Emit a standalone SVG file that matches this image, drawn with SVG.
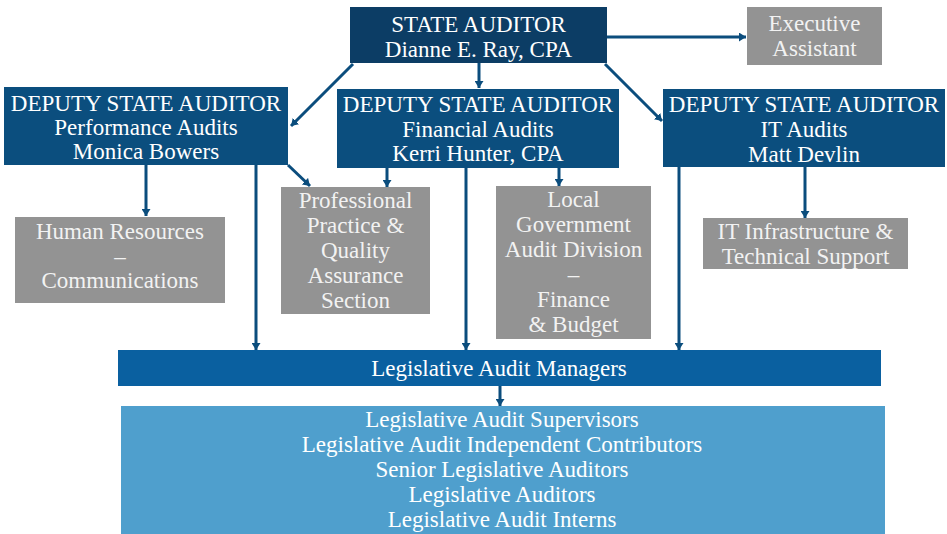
<svg xmlns="http://www.w3.org/2000/svg" width="947" height="534" viewBox="0 0 947 534" font-family="'Liberation Serif', 'DejaVu Serif', serif">
<defs>
<marker id="ah" markerUnits="userSpaceOnUse" viewBox="0 0 7 9" refX="7" refY="4.5" markerWidth="7" markerHeight="9" orient="auto">
<path d="M0,0 L7,4.5 L0,9 z" fill="#0b4d7d"/>
</marker>
<style>
text{font-family:'Liberation Serif','DejaVu Serif',serif;font-size:23px;fill:#ffffff;text-anchor:middle}
.gt{fill:#f2f2f2}
.top{fill:#0c3d65}
.dep{fill:#0b4e7e}
.gray{fill:#939393}
.mgr{fill:#0a60a0}
.low{fill:#4f9fcd}
.c{stroke:#0b4d7d;stroke-width:3;fill:none;marker-end:url(#ah)}
</style>
</defs>
<rect width="947" height="534" fill="#ffffff"/>
<g id="connectors">
<line class="c" x1="607" y1="37" x2="746" y2="37"/>
<line class="c" x1="479" y1="63" x2="479" y2="88"/>
<line class="c" x1="353" y1="64" x2="291" y2="126"/>
<line class="c" x1="605" y1="64" x2="662" y2="121"/>
<line class="c" x1="146" y1="165" x2="146" y2="216"/>
<line class="c" x1="288" y1="165" x2="310" y2="186"/>
<line class="c" x1="256" y1="165" x2="256" y2="350"/>
<line class="c" x1="387" y1="168" x2="387" y2="187"/>
<line class="c" x1="466" y1="168" x2="466" y2="350"/>
<line class="c" x1="559" y1="168" x2="559" y2="186"/>
<line class="c" x1="679" y1="167" x2="679" y2="350"/>
<line class="c" x1="805" y1="167" x2="805" y2="218"/>
<line class="c" x1="500" y1="386" x2="500" y2="406"/>
</g>
<g id="state-auditor">
<rect class="top" x="350" y="7" width="257" height="56"/>
<text x="478.5" y="32">STATE AUDITOR</text>
<text x="478.5" y="57">Dianne E. Ray, CPA</text>
</g>
<g id="executive-assistant">
<rect class="gray" x="747" y="7" width="135" height="58"/>
<text class="gt" x="814.5" y="31">Executive</text>
<text class="gt" x="814.5" y="56">Assistant</text>
</g>
<g id="deputy-performance">
<rect class="dep" x="4" y="87" width="284" height="78"/>
<text x="146" y="111">DEPUTY STATE AUDITOR</text>
<text x="146" y="135">Performance Audits</text>
<text x="146" y="159">Monica Bowers</text>
</g>
<g id="deputy-financial">
<rect class="dep" x="337" y="89" width="282" height="79"/>
<text x="478" y="112">DEPUTY STATE AUDITOR</text>
<text x="478" y="137">Financial Audits</text>
<text x="478" y="161">Kerri Hunter, CPA</text>
</g>
<g id="deputy-it">
<rect class="dep" x="663" y="89" width="282" height="78"/>
<text x="804" y="112">DEPUTY STATE AUDITOR</text>
<text x="804" y="137">IT Audits</text>
<text x="804" y="162">Matt Devlin</text>
</g>
<g id="hr-communications">
<rect class="gray" x="15" y="217" width="210" height="86"/>
<text class="gt" x="120" y="239">Human Resources</text>
<text class="gt" x="120" y="264">–</text>
<text class="gt" x="120" y="288">Communications</text>
</g>
<g id="professional-practice">
<rect class="gray" x="281" y="187" width="149" height="127"/>
<text class="gt" x="355.5" y="208">Professional</text>
<text class="gt" x="355.5" y="233">Practice &amp;</text>
<text class="gt" x="355.5" y="258">Quality</text>
<text class="gt" x="355.5" y="283">Assurance</text>
<text class="gt" x="355.5" y="308">Section</text>
</g>
<g id="local-government">
<rect class="gray" x="496" y="186" width="155" height="153"/>
<text class="gt" x="573.5" y="207">Local</text>
<text class="gt" x="573.5" y="232">Government</text>
<text class="gt" x="573.5" y="257">Audit Division</text>
<text class="gt" x="573.5" y="282">–</text>
<text class="gt" x="573.5" y="307">Finance</text>
<text class="gt" x="573.5" y="332">&amp; Budget</text>
</g>
<g id="it-infrastructure">
<rect class="gray" x="703" y="218" width="205" height="51"/>
<text class="gt" x="805.5" y="239">IT Infrastructure &amp;</text>
<text class="gt" x="805.5" y="264">Technical Support</text>
</g>
<g id="audit-managers">
<rect class="mgr" x="118" y="350" width="763" height="36"/>
<text x="499" y="376">Legislative Audit Managers</text>
</g>
<g id="audit-staff">
<rect class="low" x="121" y="406" width="764" height="128"/>
<text x="502" y="427">Legislative Audit Supervisors</text>
<text x="502" y="452">Legislative Audit Independent Contributors</text>
<text x="502" y="477">Senior Legislative Auditors</text>
<text x="502" y="502">Legislative Auditors</text>
<text x="502" y="527">Legislative Audit Interns</text>
</g>
</svg>
